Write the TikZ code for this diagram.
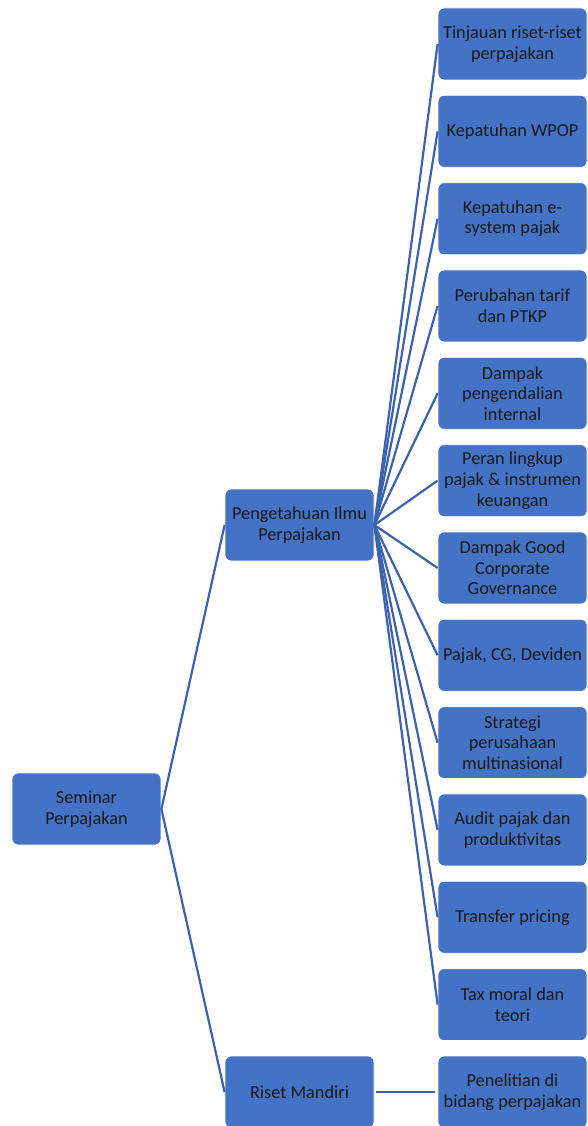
\documentclass[tikz,border=0pt]{standalone}
\usepackage{fontspec}
\setmainfont{Carlito}
\definecolor{boxblue}{RGB}{68,114,196}
\definecolor{lineblue}{RGB}{61,98,172}

\begin{document}
\begin{tikzpicture}[x=1pt, y=-1pt,
    box/.style={draw=white, line width=0.8pt, fill=boxblue, rounded corners=6pt,
        minimum width=149pt, minimum height=72pt, inner sep=0pt,
        align=center, text=black!90, font=\fontsize{18.3}{20.6}\selectfont},
    link/.style={draw=lineblue, line width=2.2pt}]
    \clip (0, 0) rectangle (587, 1126);
    \useasboundingbox (0, 0) rectangle (587, 1126);
    % Root and second level
    \node[box] (seminar) at (86.5, 809) {Seminar\\Perpajakan};
    \node[box] (ilmu) at (299.5, 525) {Pengetahuan Ilmu\\Perpajakan};
    \node[box] (riset) at (299.5, 1092) {Riset Mandiri};
    % Topics
    \foreach \txt [count=\i from 0] in {
        {Tinjauan riset-riset\\perpajakan},
        {Kepatuhan WPOP},
        {Kepatuhan e-\\system pajak},
        {Perubahan tarif\\dan PTKP},
        {Dampak\\pengendalian\\internal},
        {Peran lingkup\\pajak \& instrumen\\keuangan},
        {Dampak Good\\Corporate\\Governance},
        {Pajak, CG, Deviden},
        {Strategi\\perusahaan\\multinasional},
        {Audit pajak dan\\produktivitas},
        {Transfer pricing},
        {Tax moral dan\\teori}} {
        \node[box] (topic\i) at (512.5, 44 + 87.33*\i) {\txt};
        \draw[link] (ilmu.east) -- (topic\i.west);
    }
    \node[box] (penelitian) at (512.5, 1092) {Penelitian di\\bidang perpajakan};
    % Connectors
    \draw[link] (seminar.east) -- (ilmu.west);
    \draw[link] (seminar.east) -- (riset.west);
    \draw[link, shorten <=2pt, shorten >=3pt] (riset.east) -- (penelitian.west);
\end{tikzpicture}
\end{document}
